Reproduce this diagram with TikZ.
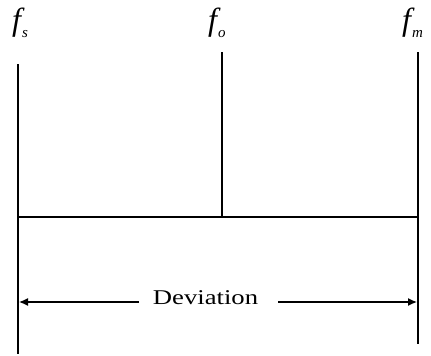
\documentclass[tikz,border=0pt]{standalone}
\usepackage{fontspec}
\setmainfont{Liberation Serif}
\usetikzlibrary{arrows.meta}
\tikzset{
  vline/.style={line width=1.3pt},
  flabel/.style={anchor=base west, inner sep=0pt, font=\fontsize{32}{32}\selectfont\itshape},
  devarrow/.style={line width=1.3pt, -{Latex[length=9pt,width=8pt]}},
}
\newcommand{\fsub}[1]{f\kern1pt\raisebox{-8pt}{\fontsize{15}{15}\selectfont #1}}
\begin{document}
\begin{tikzpicture}[x=1pt,y=1pt]
\useasboundingbox (0,0) rectangle (431,-356);
% vertical lines
\coordinate (ltop) at (18,-64);
\coordinate (lbot) at (18,-354);
\coordinate (mtop) at (222,-52);
\coordinate (mbot) at (222,-217);
\coordinate (rtop) at (418,-52);
\coordinate (rbot) at (418,-344);
\coordinate (hl) at (18,-217);
\coordinate (hr) at (418,-217);
\draw[vline] (ltop) -- (lbot);
\draw[vline] (mtop) -- (mbot);
\draw[vline] (rtop) -- (rbot);
\draw[vline] (hl) -- (hr);
% labels
\node[flabel] (fs) at (12,-30) {\fsub{s}};
\node[flabel] (fo) at (208,-30) {\fsub{o}};
\node[flabel] (fm) at (402,-30) {\fsub{m}};
% deviation
\node[inner sep=0pt, font=\fontsize{21}{21}\selectfont] (dev) at (205.5,-298) {\scalebox{1.27}[1]{Deviation}};
\coordinate (al) at (19,-302);
\coordinate (ar) at (417,-302);
\coordinate (dl) at (139,-302);
\coordinate (dr) at (278,-302);
\draw[devarrow] (dl) -- (al);
\draw[devarrow] (dr) -- (ar);
\end{tikzpicture}
\end{document}
